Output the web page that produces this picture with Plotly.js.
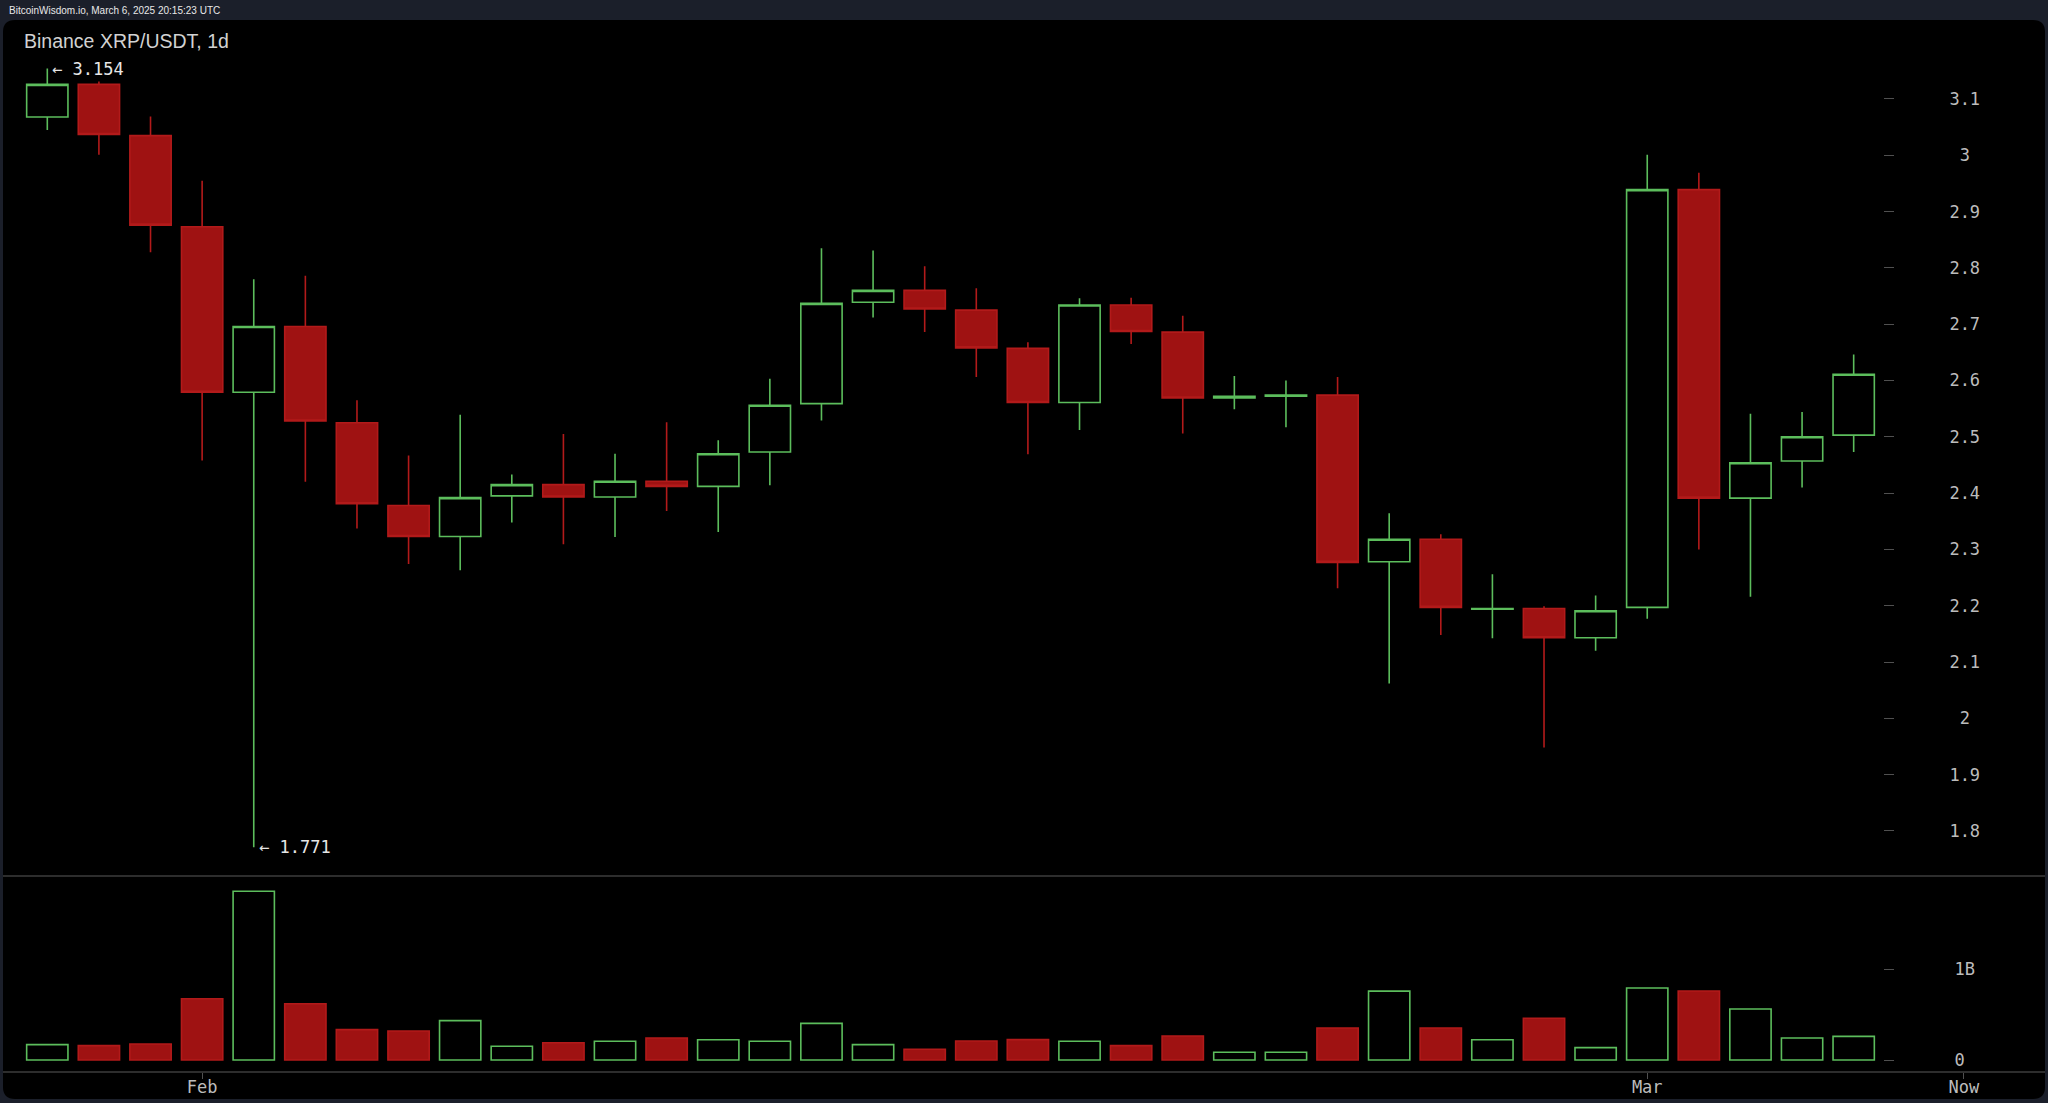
<!DOCTYPE html>
<html>
<head>
<meta charset="utf-8">
<script src="https://cdn.plot.ly/plotly-3.0.1.min.js"></script>
<style>
  html, body { margin: 0; padding: 0; background: #1b1f2a; overflow: hidden; }
  #chart { width: 2048px; height: 1103px; }
</style>
</head>
<body>
<div id="chart"></div>
<script>
// ---- Data (Binance XRP/USDT daily) ----
const dates = [
  '2025-01-30','2025-01-31','2025-02-01','2025-02-02','2025-02-03','2025-02-04',
  '2025-02-05','2025-02-06','2025-02-07','2025-02-08','2025-02-09','2025-02-10',
  '2025-02-11','2025-02-12','2025-02-13','2025-02-14','2025-02-15','2025-02-16',
  '2025-02-17','2025-02-18','2025-02-19','2025-02-20','2025-02-21','2025-02-22',
  '2025-02-23','2025-02-24','2025-02-25','2025-02-26','2025-02-27','2025-02-28',
  '2025-03-01','2025-03-02','2025-03-03','2025-03-04','2025-03-05','2025-03-06'
];
const openP = [
  3.068, 3.126, 3.035, 2.873, 2.579, 2.696,
  2.525, 2.378, 2.323, 2.395, 2.415, 2.393,
  2.421, 2.412, 2.473, 2.559, 2.739, 2.760,
  2.725, 2.657, 2.561, 2.734, 2.686, 2.569,
  2.572, 2.574, 2.278, 2.318, 2.194, 2.195,
  2.143, 2.197, 2.939, 2.391, 2.457, 2.503
];
const highP = [
  3.154, 3.131, 3.069, 2.955, 2.780, 2.786,
  2.565, 2.467, 2.539, 2.433, 2.505, 2.470,
  2.526, 2.494, 2.603, 2.835, 2.831, 2.803,
  2.764, 2.668, 2.746, 2.747, 2.715, 2.608,
  2.600, 2.606, 2.364, 2.327, 2.256, 2.199,
  2.218, 3.001, 2.969, 2.541, 2.544, 2.646
];
const lowP = [
  3.045, 3.001, 2.828, 2.458, 1.771, 2.420,
  2.337, 2.274, 2.263, 2.348, 2.309, 2.322,
  2.368, 2.331, 2.414, 2.529, 2.712, 2.686,
  2.606, 2.469, 2.512, 2.665, 2.506, 2.549,
  2.517, 2.231, 2.062, 2.148, 2.142, 1.948,
  2.120, 2.177, 2.300, 2.216, 2.410, 2.473
];
const closeP = [
  3.126, 3.037, 2.876, 2.579, 2.696, 2.528,
  2.381, 2.323, 2.392, 2.415, 2.393, 2.421,
  2.412, 2.470, 2.556, 2.737, 2.760, 2.727,
  2.658, 2.561, 2.734, 2.687, 2.569, 2.572,
  2.574, 2.277, 2.318, 2.197, 2.195, 2.143,
  2.191, 2.939, 2.391, 2.454, 2.500, 2.611
];
// volume in billions
const volumeB = [
  0.169, 0.158, 0.176, 0.676, 1.860, 0.621,
  0.335, 0.320, 0.434, 0.151, 0.191, 0.206,
  0.243, 0.224, 0.206, 0.404, 0.169, 0.118,
  0.210, 0.225, 0.206, 0.158, 0.265, 0.085,
  0.085, 0.353, 0.759, 0.353, 0.224, 0.460,
  0.136, 0.794, 0.761, 0.562, 0.243, 0.261
];
const priceTickVals = [1.8, 1.9, 2, 2.1, 2.2, 2.3, 2.4, 2.5, 2.6, 2.7, 2.8, 2.9, 3, 3.1];
const priceTickText = ['1.8','1.9','\u00a02','2.1','2.2','2.3','2.4','2.5','2.6','2.7','2.8','2.9','\u00a03','3.1'];
const volTickVals = [0, 1];
const volTickText = ['0', '1B'];
const xTickVals = ['2025-02-02', '2025-03-02', '2025-03-08 03:17'];
const xTickText = ['Feb', 'Mar', 'Now'];
const chartTitle = 'Binance XRP/USDT, 1d';
const stampText = 'BitcoinWisdom.io, March 6, 2025 20:15:23 UTC';

// ---- Styling ----
const W = 2048, H = 1103;
const GREEN = '#5cbd5c', RED_FILL = '#9f1212', RED_LINE = '#b21a1a';
const MONO = 'DejaVu Sans Mono, monospace';
const px2py = p => 1 - p / H;   // pixel row -> paper y
const px2px = p => p / W;       // pixel col -> paper x

const DAY = 86400000;
const xLeft = Date.parse(dates[0] + 'T00:00:00Z') - 0.9165 * DAY;
const xRight = Date.parse(dates[dates.length - 1] + 'T00:00:00Z') + 3.765 * DAY;

const up = closeP.map((c, i) => c >= openP[i]);
const volFill = up.map(u => u ? 'rgba(0,0,0,1)' : RED_FILL);
const volLine = up.map(u => u ? GREEN : RED_LINE);

const maxHigh = Math.max(...highP);
const minLow = Math.min(...lowP);
const iMax = highP.indexOf(maxHigh), iMin = lowP.indexOf(minLow);

const traces = [
  {
    type: 'candlestick', x: dates, open: openP, high: highP, low: lowP, close: closeP,
    xaxis: 'x', yaxis: 'y',
    increasing: { line: { color: GREEN, width: 1.6 }, fillcolor: '#000000' },
    decreasing: { line: { color: RED_LINE, width: 1.6 }, fillcolor: RED_FILL },
    whiskerwidth: 0, showlegend: false, hoverinfo: 'skip'
  },
  {
    type: 'bar', x: dates, y: volumeB, xaxis: 'x', yaxis: 'y2',
    marker: { color: volFill, line: { color: volLine, width: 1.6 } },
    showlegend: false, hoverinfo: 'skip'
  }
];

// rounded black panel
const r = 12, rx = r / W, ry = r / H;
const x0 = px2px(3), x1 = px2px(2045), yT = px2py(20), yB = px2py(1099);
const panelPath = `M ${x0+rx},${yT} L ${x1-rx},${yT} Q ${x1},${yT} ${x1},${yT-ry} L ${x1},${yB+ry} Q ${x1},${yB} ${x1-rx},${yB} L ${x0+rx},${yB} Q ${x0},${yB} ${x0},${yB+ry} L ${x0},${yT-ry} Q ${x0},${yT} ${x0+rx},${yT} Z`;

const tickColor = '#505050';
const labelFont = { family: MONO, size: 17, color: '#bcbcbc' };
const priceRange = [1.7217, 3.2403];
const volRange = [-0.1323, 2.0287];
const priceDomain = [px2py(875), px2py(20)];
const volDomain = [px2py(1072), px2py(876)];

const layout = {
  width: W, height: H,
  margin: { l: 0, r: 0, t: 0, b: 0, pad: 0 },
  paper_bgcolor: '#1b1f2a', plot_bgcolor: 'rgba(0,0,0,0)',
  showlegend: false, hovermode: false, dragmode: false,
  boxgap: 0.2, boxgroupgap: 0, bargap: 0.2,
  title: {
    text: chartTitle, x: px2px(24), xanchor: 'left', xref: 'paper',
    y: px2py(41), yanchor: 'middle', yref: 'paper',
    font: { family: 'Liberation Sans, Arial, sans-serif', size: 19.5, color: '#d2d2d2' }
  },
  xaxis: {
    type: 'date', domain: [0, 1], anchor: 'y2', range: [xLeft, xRight],
    tickmode: 'array', tickvals: xTickVals, ticktext: xTickText,
    ticks: 'outside', ticklen: 6, tickcolor: tickColor, tickwidth: 1,
    tickfont: labelFont, ticklabelstandoff: -6,
    showgrid: false, zeroline: false, showline: false,
    rangeslider: { visible: false }, fixedrange: true
  },
  yaxis: {
    domain: priceDomain, range: priceRange, anchor: 'free', position: px2px(1883), side: 'right',
    tickmode: 'array', tickvals: priceTickVals, ticktext: priceTickText,
    ticks: 'outside', ticklen: 10, tickcolor: tickColor, tickwidth: 1,
    tickfont: labelFont, ticklabelstandoff: 52,
    showgrid: false, zeroline: false, showline: false, fixedrange: true
  },
  yaxis3: {
    overlaying: 'y', range: priceRange, anchor: 'free', position: px2px(2045), side: 'left',
    tickmode: 'array', tickvals: priceTickVals, showticklabels: false,
    ticks: 'outside', ticklen: 10, tickcolor: tickColor, tickwidth: 1,
    showgrid: false, zeroline: false, showline: false, fixedrange: true
  },
  yaxis2: {
    domain: volDomain, range: volRange, anchor: 'free', position: px2px(1883), side: 'right',
    tickmode: 'array', tickvals: volTickVals, ticktext: volTickText,
    ticks: 'outside', ticklen: 10, tickcolor: tickColor, tickwidth: 1,
    tickfont: labelFont, ticklabelstandoff: 57,
    showgrid: false, zeroline: false, showline: false, fixedrange: true
  },
  yaxis4: {
    overlaying: 'y2', range: volRange, anchor: 'free', position: px2px(2045), side: 'left',
    tickmode: 'array', tickvals: volTickVals, showticklabels: false,
    ticks: 'outside', ticklen: 10, tickcolor: tickColor, tickwidth: 1,
    showgrid: false, zeroline: false, showline: false, fixedrange: true
  },
  shapes: [
    { type: 'path', xref: 'paper', yref: 'paper', path: panelPath,
      fillcolor: '#000000', line: { width: 0 }, layer: 'below' },
    { type: 'line', xref: 'paper', yref: 'paper', x0: x0, x1: x1, y0: px2py(876), y1: px2py(876),
      line: { color: '#3d3d3d', width: 1.5 }, layer: 'below' },
    { type: 'line', xref: 'paper', yref: 'paper', x0: x0, x1: x1, y0: px2py(1072), y1: px2py(1072),
      line: { color: '#3d3d3d', width: 1.5 }, layer: 'below' }
  ],
  annotations: [
    { xref: 'paper', yref: 'paper', x: px2px(7), y: px2py(10.5), xanchor: 'left', yanchor: 'middle',
      text: stampText, showarrow: false,
      font: { family: 'Liberation Sans, Arial, sans-serif', size: 10, color: '#e8e8e8' } },
    { xref: 'x', yref: 'y', x: dates[iMax], y: maxHigh, xanchor: 'left', yanchor: 'middle',
      xshift: 3, text: '\u2190 ' + maxHigh.toFixed(3), showarrow: false,
      font: { family: MONO, size: 17, color: '#e6e6e6' } },
    { xref: 'x', yref: 'y', x: dates[iMin], y: minLow, xanchor: 'left', yanchor: 'middle',
      xshift: 3, text: '\u2190 ' + minLow.toFixed(3), showarrow: false,
      font: { family: MONO, size: 17, color: '#e6e6e6' } }
  ]
};

Plotly.newPlot('chart', traces, layout, { displayModeBar: false, staticPlot: true });
</script>
</body>
</html>
